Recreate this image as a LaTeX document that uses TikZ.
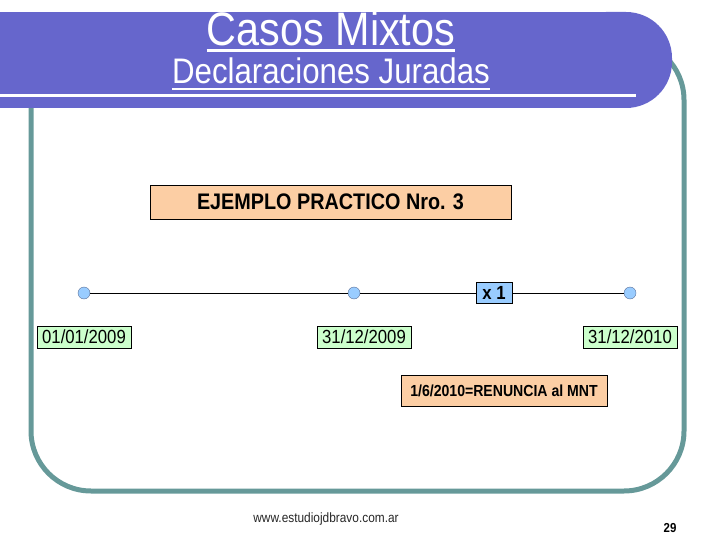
\documentclass[tikz,border=0pt]{standalone}
\usepackage{fontspec}
\setmainfont{Liberation Sans}
\newfontfamily\tallsans[FakeStretch=0.88]{Liberation Sans}
\usepackage{tikz}
\usepackage{xcolor}
\usetikzlibrary{positioning}

\definecolor{banner}{RGB}{102,102,204}
\definecolor{frameteal}{RGB}{102,153,153}
\definecolor{peach}{RGB}{252,206,164}
\definecolor{mint}{RGB}{204,255,204}
\definecolor{skyblue}{RGB}{153,204,255}
\definecolor{dotedge}{RGB}{90,110,150}

\tikzset{
  datedot/.style={circle, draw=dotedge, fill=skyblue, minimum size=12pt, inner sep=0pt},
  datebox/.style={draw=black, fill=mint, minimum width=94pt, minimum height=22pt,
    inner sep=0pt, font=\tallsans\fontsize{19}{22}\selectfont},
  notebox/.style={draw=black, fill=peach, inner sep=0pt},
  countbox/.style={draw=black, fill=skyblue, minimum width=36pt, minimum height=21pt,
    inner sep=0pt, font=\tallsans\fontsize{19}{22}\selectfont\bfseries}
}

\begin{document}
\begin{tikzpicture}[x=1pt, y=-1pt]
            \useasboundingbox (0,0) rectangle (720,540);

            % Draw the frame
            \draw[frameteal, line width=5pt, rounded corners=60pt] (31,40) rectangle (684,491);

            % Draw the title banner
            \fill[banner] (0,12) rectangle (626,108);
            \fill[banner, rounded corners=46pt] (560,12) rectangle (672,108);
            \draw[white, line width=3pt] (0,96) -- (636,96);

            % Add the titles with their underlines
            \node[white, inner sep=0pt, anchor=base, font=\tallsans\fontsize{47}{52}\selectfont]
                (title) at (331,46) {Casos Mixtos};
            \node[white, inner sep=0pt, anchor=base, font=\tallsans\fontsize{35.5}{40}\selectfont]
                (subtitle) at (331,84) {Declaraciones Juradas};
            \draw[white, line width=2.5pt] ([yshift=-4pt]title.south west) -- ([yshift=-4pt]title.south east);
            \draw[white, line width=2pt] ([yshift=-4pt]subtitle.south west) -- ([yshift=-4pt]subtitle.south east);

            % Add the example box
            \node[notebox, minimum width=361pt, minimum height=34pt, font=\tallsans\fontsize{22.5}{26}\selectfont\bfseries]
                (example) at (330.5,202) {EJEMPLO PRACTICO Nro. 3};

            % Draw the time line
            \foreach \name/\x in {d1/84, d2/354, d3/630}
                \node[datedot] (\name) at (\x,293) {};
            \draw[line width=0.8pt] (d1) -- (d2) -- (d3);
            \node[countbox] (count) at (494,292.5) {x 1};

            % Add the dates
            \foreach \name/\x/\date in {date1/84/{01/01/2009}, date2/364/{31/12/2009}, date3/630/{31/12/2010}}
                \node[datebox] (\name) at (\x,337) {\date};

            % Add the note
            \node[notebox, minimum width=206pt, minimum height=31pt, font=\tallsans\fontsize{16}{19}\selectfont\bfseries]
                (note) at (504,390.5) {1/6/2010=RENUNCIA al MNT};

            % Add the footer
            \node[font=\tallsans\fontsize{13.5}{16}\selectfont, text=black!85] (site) at (326,519) {www.estudiojdbravo.com.ar};
            \node[font=\tallsans\fontsize{13}{15}\selectfont\bfseries] (page) at (670,528) {29};
        \end{tikzpicture}
\end{document}
